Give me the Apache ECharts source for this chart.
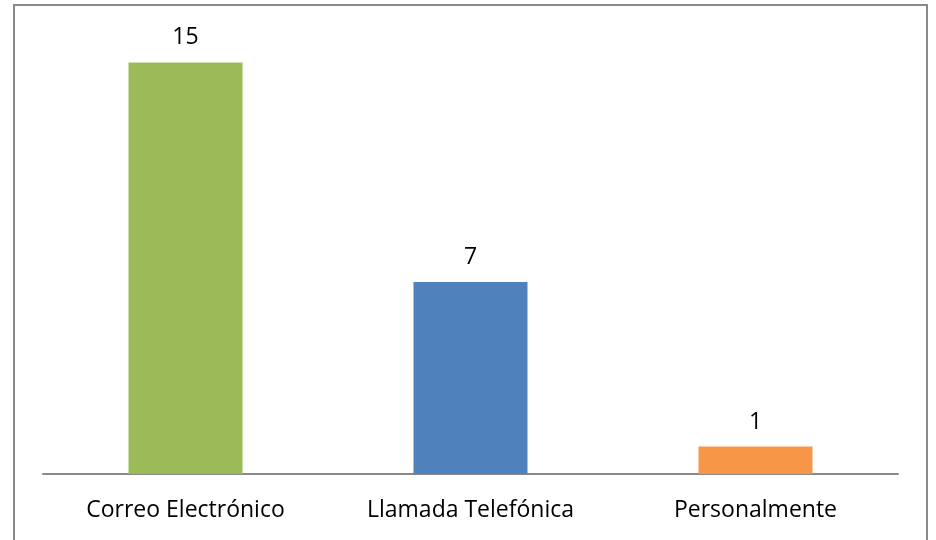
<!DOCTYPE html>
<html>
<head>
<meta charset="utf-8">
<script src="https://cdn.jsdelivr.net/npm/echarts@6/dist/echarts.min.js"></script>
<style>
  html, body { margin: 0; padding: 0; background: #fff; }
  #chart { width: 936px; height: 540px; }
</style>
</head>
<body>
<div id="chart"></div>
<script>
// datos del gráfico
const categorias = ['Correo Electrónico', 'Llamada Telefónica', 'Personalmente']
const valores = [15, 7, 1]
const colores = ['#9BBB59', '#4F81BD', '#F79646']

const myChart = echarts.init(document.getElementById('chart'))

const option = {
  animation: false,
  graphic: [
    {
      type: 'rect',
      shape: { x: 14, y: 5, width: 913, height: 545 },
      style: { fill: 'none', stroke: '#898989', lineWidth: 2 },
      silent: true
    }
  ],
  grid: { left: 43, right: 38, top: 35, bottom: 66 },
  xAxis: {
    type: 'category',
    data: categorias,
    axisTick: { show: false },
    axisLine: { lineStyle: { color: '#898989', width: 2 } },
    axisLabel: {
      color: '#000',
      fontFamily: 'Open Sans',
      fontSize: 23,
      margin: 25
    }
  },
  yAxis: {
    type: 'value',
    min: 0,
    max: 16,
    show: false
  },
  series: [
    {
      type: 'bar',
      barWidth: '40%',
      data: valores.map((v, i) => ({ value: v, itemStyle: { color: colores[i] } })),
      label: {
        show: true,
        position: 'top',
        distance: 13,
        color: '#000',
        fontFamily: 'Open Sans',
        fontSize: 23
      }
    }
  ]
}
myChart.setOption(option)
</script>
</body>
</html>
